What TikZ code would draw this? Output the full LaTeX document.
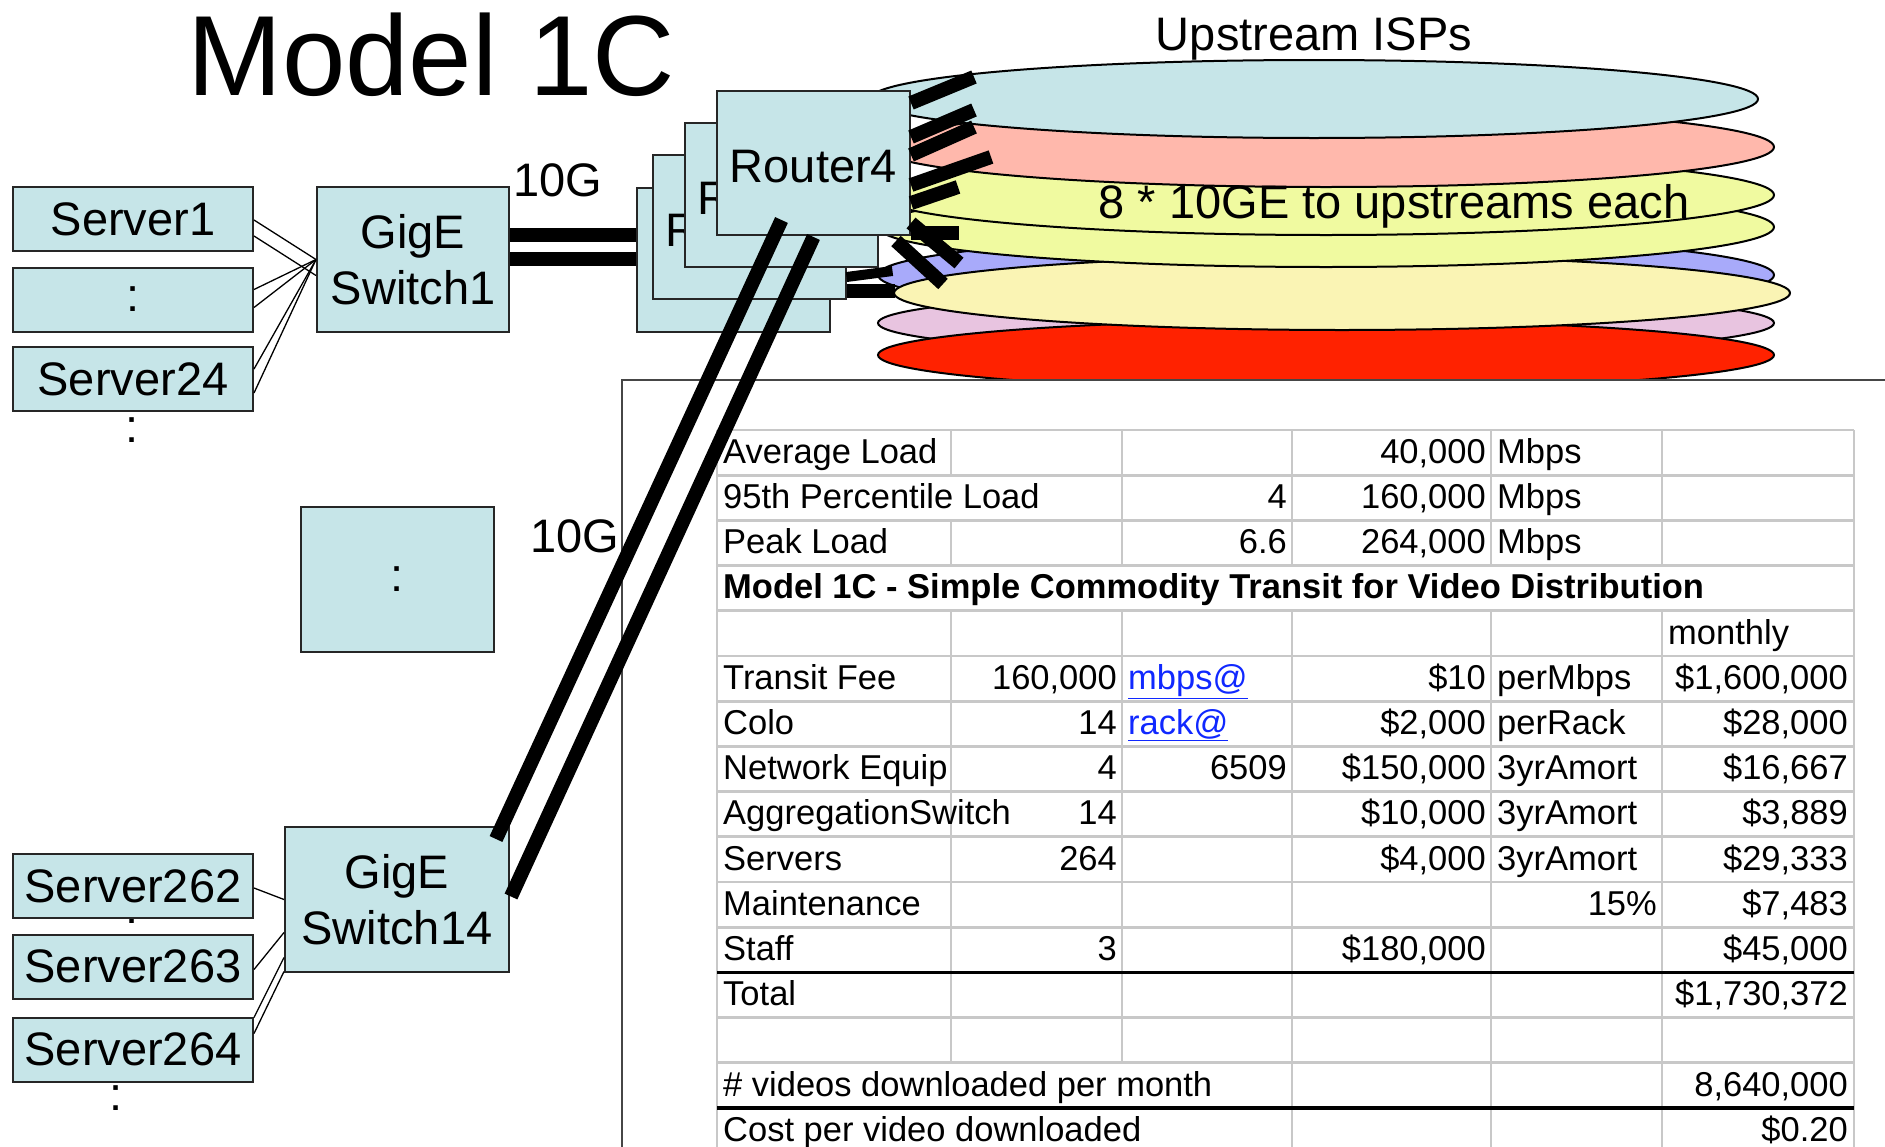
\documentclass[tikz,border=0pt]{standalone}
\usepackage{fontspec}
\setmainfont{Liberation Sans}
\usepackage{tikz}
\usetikzlibrary{
    calc,
    positioning
}
\usepackage{xcolor}
\definecolor{boxblue}{RGB}{198,229,232}
\definecolor{ispsalmon}{RGB}{255,184,172}
\definecolor{ispgreen}{RGB}{240,250,160}
\definecolor{isplav}{RGB}{168,170,250}
\definecolor{ispcream}{RGB}{250,244,180}
\definecolor{isplilac}{RGB}{232,196,224}
\definecolor{ispred}{RGB}{255,34,0}
\definecolor{gridgray}{RGB}{200,200,200}
\definecolor{linkblue}{RGB}{16,40,255}
\definecolor{framegray}{RGB}{70,70,70}

\newcommand{\bigtitle}{\fontsize{114}{130}\selectfont}
\newcommand{\boxfont}{\fontsize{47}{56}\selectfont}
\newcommand{\cellfont}{\fontsize{34.5}{41}\selectfont}

\begin{document}
\begin{tikzpicture}[
    x=1pt, y=-1pt,
    box/.style={rectangle, draw=black!85, line width=2pt, fill=boxblue, inner sep=0pt, font=\boxfont, align=center},
    server/.style={box, minimum width=240pt, minimum height=64pt},
    switch/.style={box, minimum width=192pt, minimum height=145pt},
    router/.style={box, minimum width=193pt, minimum height=144pt, text height=91pt, text depth=53pt},
    wire/.style={line width=1.3pt},
    fat/.style={line width=14pt},
    isp/.style={draw=black, line width=2pt},
    gridline/.style={gridgray, line width=2.7pt},
    thickrule/.style={black, line width=3.5pt},
    cellL/.style={anchor=base west, inner sep=0pt, font=\cellfont},
    cellR/.style={anchor=base east, inner sep=0pt, font=\cellfont}
]
\useasboundingbox (0,0) rectangle (1885,1146);

% === TITLES ===
\node[font=\bigtitle, anchor=base] (title) at (431,95) {Model 1C};
\node[font=\boxfont, anchor=base] (isps) at (1314,50) {Upstream ISPs};

% === UPSTREAM ISPS (stack of ellipses) ===
\draw[isp, fill=isplilac] (1326,323) ellipse [x radius=448, y radius=33];
\draw[isp, fill=ispred] (1326,355) ellipse [x radius=448, y radius=35];
\draw[isp, fill=isplav] (1326,275) ellipse [x radius=448, y radius=40];
\draw[isp, fill=ispcream] (1342,293) ellipse [x radius=448, y radius=37];
\draw[isp, fill=ispgreen] (1326,227) ellipse [x radius=448, y radius=40];
\draw[isp, fill=ispgreen] (1326,195) ellipse [x radius=448, y radius=40];
\draw[isp, fill=ispsalmon] (1326,147) ellipse [x radius=448, y radius=40];
\draw[isp, fill=boxblue] (1314,99) ellipse [x radius=444, y radius=39];
\node[font=\boxfont, anchor=base] (tenge) at (1394,218) {8 * 10GE to upstreams each};

% === COST TABLE (right) ===
\draw[framegray, line width=1.5pt, fill=white] (622,380) rectangle (1900,1160);

% grid
\foreach \rw in {0,...,16}
    \draw[gridline] (717,430+45.2*\rw) -- (1854,430+45.2*\rw);
\foreach \x in {717,1854}
    \draw[gridline] (\x,430) -- (\x,1153.2);
\foreach \x in {1122,1292,1491,1662}
    \draw[gridline] (\x,430) -- (\x,565.6);
\foreach \x in {1292,1491,1662}
    \draw[gridline] (\x,610.8) -- (\x,1153.2);
\draw[gridline] (1122,610.8) -- (1122,1062.8);
\draw[gridline] (951,430) -- (951,475.2) (951,520.4) -- (951,565.6) (951,610.8) -- (951,1062.8);
\draw[thickrule] (717,972.4) -- (1854,972.4) (717,1108) -- (1854,1108);

% cells
\foreach \rw/\cell in {1/Average Load, 2/95th Percentile Load, 3/Peak Load, 6/Transit Fee, 7/Colo,
        8/Network Equip, 9/AggregationSwitch, 10/Servers, 11/Maintenance, 12/Staff, 13/Total,
        15/\# videos downloaded per month, 16/Cost per video downloaded}
    \node[cellL] (ca\rw) at (723,418+45.2*\rw) {\cell};
\node[cellL, font=\cellfont\bfseries] (head) at (723,418+45.2*4) {Model 1C - Simple Commodity Transit for Video Distribution};
\foreach \rw/\cell in {6/{160,000}, 7/14, 8/4, 9/14, 10/264, 12/3}
    \node[cellR] (cb\rw) at (1117,418+45.2*\rw) {\cell};
\foreach \rw/\cell in {2/4, 3/6.6, 8/6509}
    \node[cellR] (cc\rw) at (1287,418+45.2*\rw) {\cell};
\foreach \rw/\cell in {6/mbps@, 7/rack@}
    \node[cellL, text=linkblue] (cc\rw) at (1128,418+45.2*\rw) {\underline{\cell}};
\foreach \rw/\cell in {1/{40,000}, 2/{160,000}, 3/{264,000}, 6/\$10, 7/{\$2,000}, 8/{\$150,000},
        9/{\$10,000}, 10/{\$4,000}, 12/{\$180,000}}
    \node[cellR] (cd\rw) at (1486,418+45.2*\rw) {\cell};
\foreach \rw/\cell in {1/Mbps, 2/Mbps, 3/Mbps, 6/perMbps, 7/perRack, 8/3yrAmort, 9/3yrAmort, 10/3yrAmort}
    \node[cellL] (ce\rw) at (1497,418+45.2*\rw) {\cell};
\node[cellR] (ce11) at (1657,418+45.2*11) {15\%};
\node[cellL] (cf5) at (1668,418+45.2*5) {monthly};
\foreach \rw/\cell in {6/{\$1,600,000}, 7/{\$28,000}, 8/{\$16,667}, 9/{\$3,889}, 10/{\$29,333},
        11/{\$7,483}, 12/{\$45,000}, 13/{\$1,730,372}, 15/{8,640,000}, 16/{\$0.20}}
    \node[cellR] (cf\rw) at (1848,418+45.2*\rw) {\cell};

% === SERVERS AND SWITCHES (left) ===
\node[server] (s1) at (133,219) {Server1};
\node[server] (sd) at (133,299.5) {:};
\node[server] (s24) at (133,379) {Server24};
\node[font=\boxfont, anchor=base] (dots1) at (132,442) {:};
\node[switch] (sw1) at (413,259.5) {GigE\\Switch1};

\node[switch, minimum width=193pt] (swd) at (397.5,579.5) {:};

\node[font=\boxfont, anchor=base] (dots2) at (132,923) {:};
\node[server] (s262) at (133,886) {Server262};
\node[server] (s263) at (133,966.5) {Server263};
\node[server] (s264) at (133,1049.5) {Server264};
\node[font=\boxfont, anchor=base] (dots3) at (116,1110) {:};
\node[switch, minimum width=224pt] (sw14) at (397,899.5) {GigE\\Switch14};

% GigE links
\foreach \n/\a/\b in {s1/1/0, s1/17/16, sd/-10/0, sd/8/0, s24/-10/0, s24/14/0}
    \draw[wire] ($(\n.east)+(0,\a)$) -- ($(sw1.west)+(0,\b)$);
\foreach \n/\a/\b in {s262/2/0, s263/3/33, s264/-32/58, s264/-16/72}
    \draw[wire] ($(\n.east)+(0,\a)$) -- ($(sw14.west)+(0,\b)$);

% === ROUTERS (stacked) ===
\node[router] (r1) at (733.5,259.5) {Router1};
\node[router] (r2) at (749,227) {Router2};
\node[router] (r3) at (781.5,195) {Router3};
\node[router] (r4) at (813.5,163) {Router4};

% 10G uplinks from switch 1
\foreach \dy in {-25,-1}
    \draw[fat] ($(sw1.east)+(0,\dy)$) -- ($(r1.west |- sw1.east)+(0,\dy)$);

% 10GE to upstreams
\foreach \dy/\ex/\ey in {-60/63/-26, -26/63/-27, -8/63/-28, 22/80/-28, 40/47/-16, 70/48/0, 60/48/40}
    \draw[fat] ($(r4.east)+(0,\dy)$) -- ++(\ex,\ey);
\draw[fat] ($(r4.south east)+(-15,5)$) -- ++(47,43);
\draw[fat] ($(r2.east)+(0,64)$) -- ++(48,0);
\draw[fat, line width=10pt] ($(r2.east)+(0,50)$) -- ++(46,-6);

% 10G down to switch 14
\draw[fat] ($(r4.south)+(-32,-16)$) -- ($(sw14.north east)+(-14,13)$);
\draw[fat] ($(r4.south)+(0,1)$) -- ($(sw14.east)+(1,-3)$);

\node[font=\boxfont, anchor=base] (tg1) at (558,196) {10G};
\node[font=\boxfont, anchor=base] (tg2) at (574.5,552) {10G};

\end{tikzpicture}
\end{document}
